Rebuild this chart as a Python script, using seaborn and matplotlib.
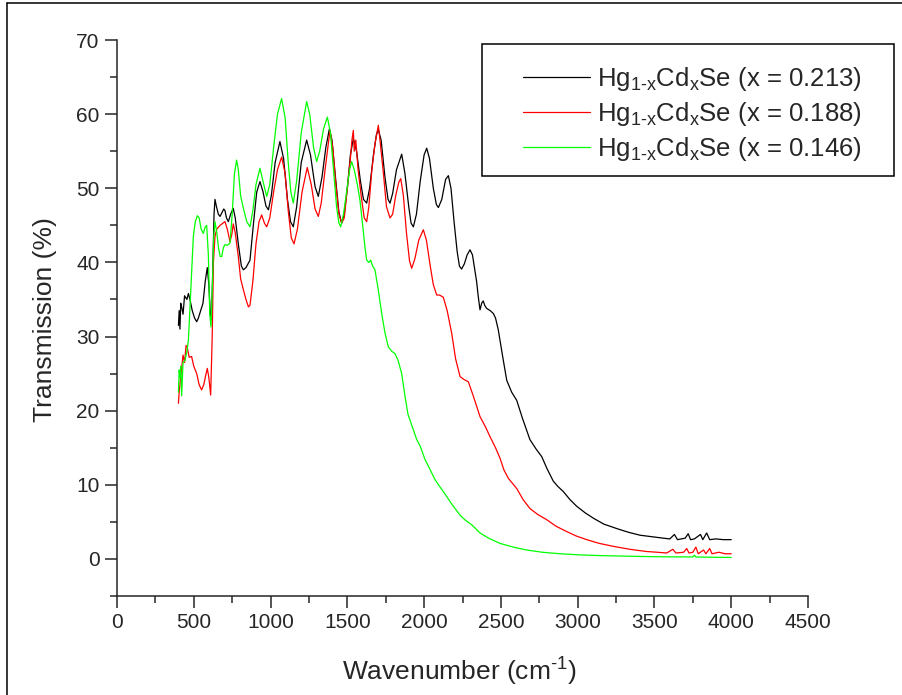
import numpy as np
import pandas as pd
import matplotlib
matplotlib.use("Agg")
import matplotlib.pyplot as plt
from matplotlib.lines import Line2D
from matplotlib.patches import Rectangle
import seaborn as sns

# transmission spectra (wavenumber in cm-1, transmission in %)
wn_213 = [400, 405, 410, 415, 421, 430, 440, 455, 465, 475, 490, 505, 519, 530, 545, 560, 575, 588, 598, 608,
          616, 625, 632, 638, 648, 660, 671, 685, 695, 703, 713, 725, 740, 757, 770, 790, 810, 823, 840, 866,
          890, 910, 931, 950, 970, 986, 1005, 1030, 1061, 1085, 1110, 1130, 1148, 1170, 1200, 1235, 1260, 1290,
          1311, 1335, 1360, 1383, 1400, 1425, 1445, 1463, 1480, 1500, 1520, 1539, 1560, 1585, 1605, 1626, 1645,
          1670, 1690, 1702, 1720, 1745, 1765, 1778, 1795, 1820, 1854, 1875, 1900, 1915, 1930, 1950, 1975, 2000,
          2017, 2035, 2060, 2080, 2093, 2115, 2140, 2158, 2175, 2195, 2215, 2230, 2244, 2262, 2280, 2299, 2315,
          2330, 2342, 2352, 2364, 2375, 2385, 2395, 2407, 2430, 2451, 2465, 2483, 2510, 2538, 2570, 2603, 2640,
          2689, 2730, 2766, 2800, 2841, 2870, 2906, 2950, 2994, 3050, 3102, 3170, 3254, 3330, 3406, 3480, 3558,
          3600, 3630, 3650, 3700, 3720, 3735, 3760, 3800, 3815, 3840, 3860, 3900, 3950, 4000]
tr_213 = [31.5, 33.5, 31.0, 34.5, 34.0, 33.0, 35.5, 35.0, 35.8, 35.0, 33.5, 32.5, 32.0, 32.5, 33.5, 34.5, 37.5,
          39.3, 37.0, 33.0, 32.3, 40.0, 46.5, 48.5, 47.5, 46.5, 46.2, 46.8, 47.2, 47.0, 46.0, 45.5, 46.5, 47.3,
          46.0, 42.5, 39.5, 39.0, 39.3, 40.3, 45.5, 49.5, 50.9, 49.6, 47.6, 47.1, 49.0, 53.5, 56.3, 54.0, 48.5,
          45.5, 44.8, 47.5, 53.5, 56.5, 54.5, 50.2, 48.9, 51.5, 55.5, 58.0, 56.5, 51.0, 46.8, 45.3, 46.5, 50.0,
          54.5, 56.7, 55.0, 51.0, 48.5, 48.0, 50.0, 54.5, 57.3, 57.9, 56.5, 51.5, 48.5, 48.0, 49.3, 52.5, 54.6,
          52.0, 47.5, 45.3, 44.8, 46.5, 51.0, 54.5, 55.4, 54.0, 50.0, 47.8, 47.4, 48.5, 51.2, 51.7, 50.0, 45.5,
          41.5, 39.5, 39.1, 39.8, 41.0, 41.7, 41.0, 39.0, 37.4, 35.5, 33.6, 34.5, 34.8, 34.2, 33.8, 33.5, 33.1,
          32.5, 30.9, 27.5, 24.1, 22.5, 21.4, 19.0, 16.1, 14.8, 13.8, 12.2, 10.5, 9.8, 9.1, 8.0, 7.1, 6.2, 5.5,
          4.7, 4.1, 3.6, 3.2, 3.0, 2.8, 2.7, 3.3, 2.6, 2.8, 3.4, 2.6, 2.7, 3.3, 2.6, 3.5, 2.6, 2.7, 2.6, 2.6]

wn_188 = [400, 405, 412, 420, 430, 440, 450, 458, 470, 486, 500, 519, 535, 551, 565, 578, 588, 598, 610, 620,
          628, 638, 650, 671, 690, 703, 718, 736, 748, 757, 770, 790, 805, 823, 840, 856, 866, 885, 905, 925,
          942, 960, 975, 995, 1020, 1045, 1072, 1095, 1115, 1135, 1153, 1175, 1205, 1239, 1265, 1290, 1311,
          1330, 1355, 1387, 1405, 1425, 1445, 1463, 1480, 1500, 1520, 1530, 1539, 1545, 1555, 1570, 1590, 1610,
          1626, 1640, 1660, 1680, 1702, 1715, 1735, 1755, 1778, 1795, 1815, 1835, 1848, 1865, 1885, 1905, 1919,
          1940, 1965, 1995, 2015, 2040, 2060, 2082, 2100, 2125, 2150, 2180, 2205, 2234, 2260, 2288, 2320, 2364,
          2400, 2429, 2465, 2494, 2520, 2548, 2575, 2603, 2645, 2689, 2740, 2798, 2860, 2928, 2990, 3059, 3140,
          3232, 3340, 3449, 3520, 3580, 3620, 3640, 3690, 3710, 3725, 3750, 3770, 3785, 3820, 3835, 3860, 3875,
          3920, 3960, 4000]
tr_188 = [21.0, 22.5, 24.0, 25.5, 27.5, 26.5, 28.8, 28.5, 27.2, 27.3, 26.0, 25.0, 23.5, 22.8, 23.5, 24.8, 25.7,
          24.5, 22.1, 30.0, 40.0, 43.5, 44.5, 45.0, 45.3, 45.5, 44.5, 42.8, 43.8, 45.2, 44.0, 40.8, 37.8, 36.3,
          35.0, 34.0, 34.2, 37.5, 42.5, 45.5, 46.4, 45.3, 44.8, 46.0, 49.5, 52.5, 54.2, 52.0, 47.0, 43.3, 42.5,
          44.5, 49.5, 52.8, 50.5, 47.2, 46.2, 48.0, 52.5, 57.8, 55.5, 50.5, 46.5, 45.3, 46.0, 50.0, 54.0, 56.5,
          57.8, 55.0, 56.5, 52.5, 49.0, 46.0, 45.5, 47.5, 52.5, 56.0, 58.5, 56.0, 52.0, 47.5, 46.0, 46.5, 49.0,
          50.8, 51.3, 49.0, 44.0, 40.2, 39.2, 40.5, 43.0, 44.4, 43.0, 39.5, 37.0, 35.6, 35.6, 35.3, 33.5, 30.4,
          27.0, 24.6, 24.2, 23.9, 22.0, 19.2, 17.8, 16.5, 15.0, 13.6, 12.0, 10.9, 10.2, 9.5, 8.0, 6.8, 6.0, 5.3,
          4.4, 3.7, 3.1, 2.6, 2.1, 1.7, 1.3, 1.0, 0.9, 0.8, 1.3, 0.8, 0.9, 1.4, 0.8, 0.9, 1.6, 0.7, 1.2, 0.7,
          1.4, 0.7, 0.9, 0.7, 0.7]

wn_146 = [400, 405, 410, 415, 421, 430, 443, 455, 465, 480, 497, 510, 523, 535, 548, 562, 575, 584, 595, 604,
          612, 620, 630, 638, 650, 662, 672, 682, 693, 703, 718, 736, 750, 765, 779, 790, 805, 823, 845, 866,
          885, 905, 931, 950, 975, 995, 1020, 1045, 1072, 1095, 1115, 1132, 1148, 1170, 1200, 1235, 1255, 1280,
          1300, 1320, 1345, 1370, 1390, 1410, 1430, 1445, 1457, 1475, 1495, 1515, 1528, 1545, 1565, 1582, 1600,
          1615, 1626, 1640, 1652, 1665, 1680, 1700, 1724, 1745, 1767, 1790, 1810, 1830, 1854, 1875, 1895, 1920,
          1952, 1975, 2006, 2040, 2071, 2100, 2125, 2180, 2234, 2270, 2310, 2340, 2364, 2420, 2494, 2580, 2668,
          2770, 2885, 3010, 3145, 3300, 3450, 3600, 3750, 3760, 3770, 3900, 4000]
tr_146 = [22.5, 25.5, 24.5, 26.0, 22.0, 26.5, 26.8, 28.0, 29.5, 36.0, 43.5, 45.5, 46.3, 46.0, 44.5, 43.9, 44.8,
          45.0, 41.0, 33.0, 31.3, 36.0, 43.5, 45.5, 44.0, 41.8, 40.8, 40.8, 42.0, 42.4, 42.3, 42.6, 46.5, 52.0,
          53.8, 52.5, 49.0, 47.3, 45.5, 44.8, 47.0, 50.5, 52.7, 51.0, 48.9, 50.5, 55.5, 60.0, 62.1, 59.5, 53.5,
          49.5, 48.0, 51.0, 57.5, 61.7, 60.0, 55.5, 53.6, 55.0, 58.0, 59.6, 57.5, 52.5, 47.5, 45.3, 44.8, 46.5,
          49.5, 52.5, 53.6, 52.5, 50.5, 48.4, 45.0, 42.0, 40.3, 40.0, 40.3, 39.5, 39.0, 36.5, 33.1, 30.5, 28.6,
          28.0, 27.7, 26.8, 25.0, 22.0, 19.5, 18.0, 16.1, 15.2, 13.4, 12.0, 10.7, 9.8, 9.1, 7.4, 5.9, 5.2, 4.6,
          4.0, 3.5, 2.8, 2.1, 1.6, 1.2, 0.9, 0.7, 0.55, 0.45, 0.38, 0.32, 0.28, 0.27, 0.5, 0.26, 0.22, 0.2]

samples = ["x = 0.213", "x = 0.188", "x = 0.146"]
colors = ["#000000", "#ff0000", "#00ff00"]

df = pd.concat([
    pd.DataFrame({"wavenumber": wn_213, "T": tr_213, "sample": samples[0]}),
    pd.DataFrame({"wavenumber": wn_188, "T": tr_188, "sample": samples[1]}),
    pd.DataFrame({"wavenumber": wn_146, "T": tr_146, "sample": samples[2]}),
], ignore_index=True)

sns.set_style("ticks")
plt.rcParams["font.family"] = ["Liberation Sans", "DejaVu Sans"]
plt.rcParams["mathtext.fontset"] = "custom"
plt.rcParams["mathtext.rm"] = "Liberation Sans"
plt.rcParams["mathtext.it"] = "Liberation Sans"

fig = plt.figure(figsize=(9.02, 6.95), dpi=100)
ax = fig.add_axes([117 / 902, 99 / 695, 691 / 902, 556 / 695])

sns.lineplot(data=df, x="wavenumber", y="T", hue="sample", hue_order=samples,
             palette=colors, estimator=None, sort=False, lw=0.9, legend=False, ax=ax)

ax.set_xlim(0, 4500)
ax.set_ylim(-5, 70)
ax.set_xticks(np.arange(0, 4501, 500))
ax.set_xticks(np.arange(0, 4501, 250), minor=True)
ax.set_yticks(np.arange(0, 71, 10))
ax.set_yticks(np.arange(-5, 71, 5), minor=True)
ax.spines["top"].set_visible(False)
ax.spines["right"].set_visible(False)
for s in ["left", "bottom"]:
    ax.spines[s].set_linewidth(1.1)
ax.tick_params(which="major", direction="out", length=8.5, width=1.1, labelsize=15, pad=4)
ax.tick_params(which="minor", direction="out", length=5, width=1.1)

ax.set_xlabel(r"Wavenumber (cm$^{\text{-1}}$)", fontsize=19)
ax.set_ylabel("Transmission (%)", fontsize=19)
ax.xaxis.set_label_coords(0.496, -0.108)
ax.yaxis.set_label_coords(-0.087, 0.497)

# legend without frame, box drawn separately
handles = [Line2D([], [], color=c, lw=0.9) for c in colors]
labels = [r"Hg$_{\text{1-x}}$Cd$_{\text{x}}$Se (" + s + ")" for s in samples]
ax.legend(handles, labels, loc="upper left", bbox_to_anchor=(510 / 902, 1 - 52 / 695),
          bbox_transform=fig.transFigure, frameon=False, fontsize=18.5, borderpad=0,
          handlelength=2.6, handletextpad=0.3, labelspacing=0.28)
fig.patches.append(Rectangle((482 / 902, 1 - 176 / 695), 412 / 902, 132 / 695,
                             transform=fig.transFigure, fill=False, ec="black", lw=1.1))

# outer frame of the original image (left and top edges)
fig.add_artist(Line2D([7 / 902, 7 / 902], [0, 1 - 3 / 695], transform=fig.transFigure, color="black", lw=1.1))
fig.add_artist(Line2D([7 / 902, 1], [1 - 3 / 695, 1 - 3 / 695], transform=fig.transFigure, color="black", lw=1.1))

fig.savefig("out.png", dpi=100)
